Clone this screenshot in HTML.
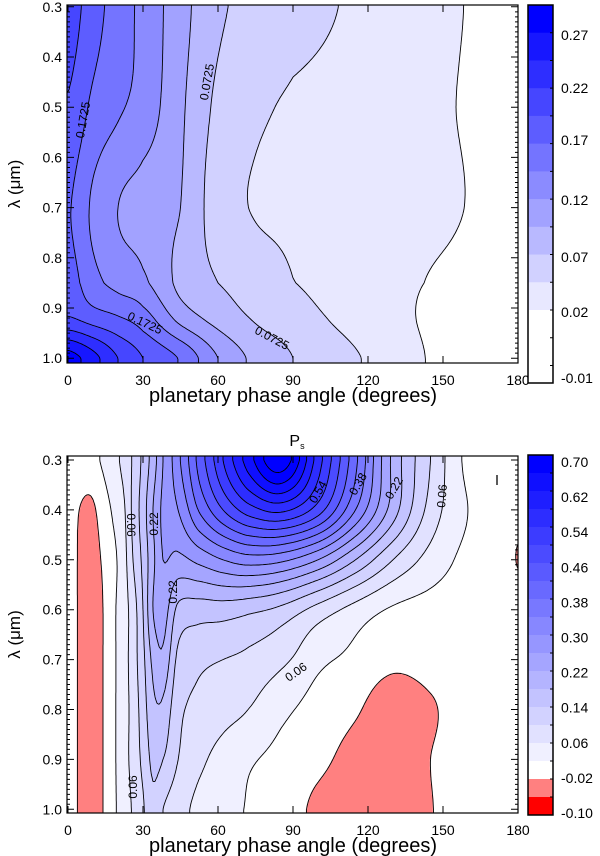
<!DOCTYPE html>
<html><head><meta charset="utf-8"><style>
html,body{margin:0;padding:0;background:#fff;}
#wrap{position:relative;width:600px;height:856px;overflow:hidden;font-family:"Liberation Sans",sans-serif;}
canvas,svg{position:absolute;left:0;top:0;}
</style></head><body>
<div id="wrap">
<canvas id="cv" width="600" height="856"></canvas>
<svg id="sv" width="600" height="856" xmlns="http://www.w3.org/2000/svg"></svg>
</div>
<script>
// ---------- DATA ----------
const topPhase = [0,10,20,30,45,60,75,90,120,150,180];
const topLambda = [0.3,0.5,0.7,0.85,0.92,1.0];
const topRow030 = [.21,.184,.160,.140,.107,.077,.0655,.057,.041,.0275,.01];
const topRow050 = [.195,.167,.151,.137,.102,.067,.052,.044,.035,.025,.01];
const topRow070 = [.175,.143,.1225,.112,.0975,.059,.046,.042,.033,.027,.01];
const topRow085 = [.185,.156,.139,.127,.091,.0725,.060,.048,.033,.019,.005];
const topRow092 = [.20,.186,.175,.159,.114,.088,.070,.057,.035,.016,.0];
const topRow100 = [.285,.257,.2225,.1975,.170,.1225,.091,.0725,.045,.017,.005];
const topLevels = [0.0225,0.0475,0.0725,0.0975,0.1225,0.1475,0.1725,0.1975,0.2225,0.2475,0.2725];
const topCbarLabels = ["0.27","0.22","0.17","0.12","0.07","0.02","-0.01"];
const botPhase = [0,4,9,14,18,22,26,30,34,38,44,52,62,72,85,100,115,130,145,160,172,180];
const botLambda = [0.3,0.4,0.5,0.6,0.7,0.8,0.9,1.0];
const botRow03 = [.008,.006,.008,.025,.045,.07,.105,.15,.20,.26,.33,.43,.54,.64,.73,.56,.39,.21,.10,.01,.0,.0];
const botRow04 = [.01,-.018,-.03,.0,.025,.05,.11,.16,.22,.27,.30,.38,.46,.52,.55,.48,.34,.20,.085,.02,.005,-.008];
const botRow05 = [.012,-.022,-.04,-.015,.01,.04,.10,.15,.21,.26,.25,.27,.30,.32,.31,.26,.18,.10,.045,.01,.005,-.022];
const botRow06 = [.012,-.022,-.045,-.02,.012,.04,.08,.14,.22,.24,.17,.16,.16,.15,.13,.085,.045,.015,.005,.0,.0,.0];
const botRow07 = [.012,-.022,-.045,-.02,.012,.04,.08,.13,.19,.21,.13,.11,.10,.09,.07,.03,.01,-.01,-.005,.0,.0,.0];
const botRow08 = [.012,-.022,-.045,-.02,.012,.04,.075,.12,.17,.17,.11,.09,.075,.06,.03,.005,-.015,-.045,-.025,.0,.0,.0];
const botRow09 = [.012,-.022,-.045,-.02,.012,.04,.075,.11,.15,.14,.10,.07,.045,.025,.01,-.01,-.035,-.05,-.02,.0,.0,.0];
const botRow10 = [.012,-.022,-.045,-.02,.012,.035,.065,.095,.13,.10,.075,.05,.03,.018,.005,-.03,-.045,-.05,-.022,.0,.0,.0];
const botLevels = [-0.06,-0.02,0.02,0.06,0.10,0.14,0.18,0.22,0.26,0.30,0.34,0.38,0.42,0.46,0.50,0.54,0.58,0.62,0.66,0.70];
const botCbarLabels = ["0.70","0.62","0.54","0.46","0.38","0.30","0.22","0.14","0.06","-0.02","-0.10"];
const xTicks = [0,30,60,90,120,150,180];
const yTicks = [0.3,0.4,0.5,0.6,0.7,0.8,0.9,1.0];

// ---------- HELPERS ----------
const NS="http://www.w3.org/2000/svg";
const sv=document.getElementById('sv');
function el(tag,attrs,parent){const e=document.createElementNS(NS,tag);for(const k in attrs)e.setAttribute(k,attrs[k]);(parent||sv).appendChild(e);return e;}
function fidx(arr,v){if(v<=arr[0])return 0;const n=arr.length-1;if(v>=arr[n])return n;for(let i=0;i<n;i++){if(v<=arr[i+1])return i+(v-arr[i])/(arr[i+1]-arr[i]);}return n;}
function cr(p0,p1,p2,p3,t){return 0.5*(2*p1+(-p0+p2)*t+(2*p0-5*p1+4*p2-p3)*t*t+(-p0+3*p1-3*p2+p3)*t*t*t);}
function makeField(xs,ys,Z){
  const nx=xs.length,ny=ys.length;
  const g=(i,j)=>Z[Math.max(0,Math.min(ny-1,j))][Math.max(0,Math.min(nx-1,i))];
  return function(x,y){
    const u=fidx(xs,x),v=fidx(ys,y);
    let i=Math.min(Math.floor(u),nx-2),j=Math.min(Math.floor(v),ny-2);
    const tu=u-i,tv=v-j;const r=[];
    for(let k=-1;k<=2;k++)r.push(cr(g(i-1,j+k),g(i,j+k),g(i+1,j+k),g(i+2,j+k),tu));
    return cr(r[0],r[1],r[2],r[3],tv);
  };
}
function bandCount(levels,v){let n=0;for(const l of levels)if(v>=l)n++;return n;}
function topColor(v){const b=bandCount(topLevels,v);const t=Math.min(1,b/11);const c=Math.round(255*(1-t));return [c,c,255];}
function botColor(v){const b=bandCount(botLevels,v);if(b===0)return [255,0,0];if(b===1)return [255,128,128];if(b===2)return [255,255,255];const t=Math.min(1,(b-2)/17);const c=Math.round(255*(1-t));return [c,c,255];}

const ctx=document.getElementById('cv').getContext('2d');
const img=ctx.createImageData(600,856);
for(let i=0;i<img.data.length;i+=4){img.data[i]=255;img.data[i+1]=255;img.data[i+2]=255;img.data[i+3]=255;}

function panel(cfg){
  const {name,field,levels,colorFn,L,R,T,B,y0,ys}=cfg;
  const xOf=p=>68+p*2.5, pOf=x=>(x-68)/2.5;
  const yOf=l=>y0+(l-0.3)*ys, lOf=y=>0.3+(y-y0)/ys;
  for(let py=T;py<B;py++){for(let px=L;px<R;px++){
    const v=field(Math.max(0,Math.min(180,pOf(px+0.5))),Math.max(0.3,Math.min(1.0,lOf(py+0.5))));
    const c=colorFn(v);const o=(py*600+px)*4;img.data[o]=c[0];img.data[o+1]=c[1];img.data[o+2]=c[2];
  }}
  const st=2,nx=Math.ceil((R-L)/st)+1,ny=Math.ceil((B-T)/st)+1;
  const F=[];for(let j=0;j<ny;j++){const row=[];for(let i=0;i<nx;i++){const px=Math.min(R,L+i*st),py=Math.min(B,T+j*st);row.push(field(Math.max(0,Math.min(180,pOf(px))),Math.max(0.3,Math.min(1.0,lOf(py)))));}F.push(row);}
  const g=el('g',{},sv);
  
  
  for(const lev of levels){
    let d='';
    for(let j=0;j<ny-1;j++)for(let i=0;i<nx-1;i++){
      const x0=Math.min(R,L+i*st),x1=Math.min(R,L+(i+1)*st),y0_=Math.min(B,T+j*st),y1=Math.min(B,T+(j+1)*st);
      const a=F[j][i],b=F[j][i+1],c=F[j+1][i+1],e=F[j+1][i];const pts=[];
      if((a<lev)!==(b<lev)){const t=(lev-a)/(b-a);pts.push([x0+t*(x1-x0),y0_]);}
      if((b<lev)!==(c<lev)){const t=(lev-b)/(c-b);pts.push([x1,y0_+t*(y1-y0_)]);}
      if((e<lev)!==(c<lev)){const t=(lev-e)/(c-e);pts.push([x0+t*(x1-x0),y1]);}
      if((a<lev)!==(e<lev)){const t=(lev-a)/(e-a);pts.push([x0,y0_+t*(y1-y0_)]);}
      for(let k=0;k+1<pts.length;k+=2)d+='M'+pts[k][0].toFixed(1)+' '+pts[k][1].toFixed(1)+'L'+pts[k+1][0].toFixed(1)+' '+pts[k+1][1].toFixed(1);
    }
    if(d){const p=el('path',{d:d,stroke:'#000','stroke-width':0.9,fill:'none'},g);
      
      }
  }
  const fr=el('rect',{x:L,y:T,width:R-L,height:B-T,fill:'none',stroke:'#000','stroke-width':1.2});
  
  
  let td='';
  for(let k=0;k<=72;k++){const l=0.29+k*0.01;const y=yOf(l);if(y<T||y>B)continue;const maj=Math.abs(l*10-Math.round(l*10))<1e-6;const len=maj?7:3;td+='M'+L+' '+y+'h'+len+'M'+R+' '+y+'h-'+len;}
  for(const p of xTicks){const x=xOf(p);td+='M'+x+' '+B+'v-7M'+x+' '+T+'v7';}
  const tk=el('path',{d:td,stroke:'#000','stroke-width':1,fill:'none'});
  
  
  for(const l of yTicks){const t=el('text',{x:62,y:yOf(l)+5,'text-anchor':'end','font-size':14});t.textContent=l.toFixed(1);
    
    }
  for(const p of xTicks){const t=el('text',{x:xOf(p),y:B+22,'text-anchor':'middle','font-size':14});t.textContent=p;
    
    }
  const xt=el('text',{x:293,y:B+39,'text-anchor':'middle','font-size':20});xt.textContent='planetary phase angle (degrees)';
  
  
  const cy=(T+B)/2;
  const yt=el('text',{x:20,y:cy,'text-anchor':'middle','font-size':17,transform:'rotate(-90 20 '+cy+')'});yt.textContent='λ (μm)';
  
  
  return {xOf,yOf};
}

const topZ=[topRow030,topRow050,topRow070,topRow085,topRow092,topRow100];
const botZ=[botRow03,botRow04,botRow05,botRow06,botRow07,botRow08,botRow09,botRow10];
const fTop=makeField(topPhase,topLambda,topZ);
const fBot=makeField(botPhase,botLambda,botZ);
const pt=panel({name:'top',field:fTop,levels:topLevels,colorFn:topColor,L:67,R:518,T:5,B:363,y0:6.8,ys:502});
const pb=panel({name:'bottom',field:fBot,levels:botLevels,colorFn:botColor,L:67,R:518,T:456,B:813,y0:460,ys:499});
ctx.putImageData(img,0,0);

function clab(txt,x,y,rot){const g=el('g',{transform:'translate('+x+' '+y+') rotate('+rot+')'});
  
  
  const t=el('text',{x:0,y:4,'text-anchor':'middle','font-size':12},g);t.textContent=txt;}
clab('0.1725',83,120,-80);clab('0.0725',207,82,-80);clab('0.1725',145,323,25);clab('0.0725',272,338,28);
clab('0.06',131,525,90);clab('0.22',154,524,-90);clab('0.22',173,592,-90);clab('0.54',318,492,-60);clab('0.38',358,484,-60);clab('0.22',394,488,-60);clab('0.06',442,496,-85);clab('0.06',296,672,-35);clab('0.06',133,787,-90);

const ti=el('text',{x:297,y:446,'text-anchor':'middle','font-size':16});ti.textContent='P';


const tis=el('tspan',{'font-size':9,dy:3},ti);tis.textContent='s';
const mk=el('path',{d:'M497 475v10',stroke:'#000','stroke-width':1.3});



function cbar(name,x,T,B,bands,labels,labelYs){
  const g=el('g',{});
  
  
  for(const b of bands){const r=el('rect',{x:x,y:b[0],width:25,height:b[1]-b[0]+0.5,fill:b[2]},g);
    
    }
  el('rect',{x:x,y:T,width:25,height:B-T,fill:'none',stroke:'#000','stroke-width':1.5},g);
  labels.forEach((s,i)=>{const t=el('text',{x:x+33,y:labelYs[i]+5,'font-size':14},g);t.textContent=s;
    
    });
  return g;
}
(function(){const T=5,B=383,W=310;const bands=[];const h=(W-T)/11;
  for(let k=0;k<11;k++){const t=(11-k)/11;const c=Math.round(255*(1-t));bands.push([T+k*h,T+(k+1)*h,'rgb('+c+','+c+',255)']);}
  bands.push([W,B,'#fff']);
  const ys=[35,88,140,200,257,312,378];
  const g=cbar('top-colorbar',528,T,B,bands,topCbarLabels,ys);
  let d='';for(let k=1;k<14;k++){const y=T+k*h;if(y<B)d+='M553 '+y+'h-3';}
  el('path',{d:d,stroke:'#000','stroke-width':1},g);
})();
(function(){const T=455,B=815;const n=20;const h=(B-T)/n;const bands=[];
  for(let k=0;k<n;k++){const idx=n-1-k;let col;if(idx===0)col='#ff0000';else if(idx===1)col='#ff8080';else if(idx===2)col='#fff';else{const t=Math.min(1,(idx-2)/17);const c=Math.round(255*(1-t));col='rgb('+c+','+c+',255)';}
    bands.push([T+k*h,T+(k+1)*h,col]);}
  const ys=[];for(let i=0;i<11;i++)ys.push(462+i*35.1);
  const g=cbar('bottom-colorbar',528,T,B,bands,botCbarLabels,ys);
  let d='';for(let k=1;k<n;k++){d+='M553 '+(T+k*h)+'h-3';}
  el('path',{d:d,stroke:'#000','stroke-width':1},g);
})();
</script>
</body></html>
